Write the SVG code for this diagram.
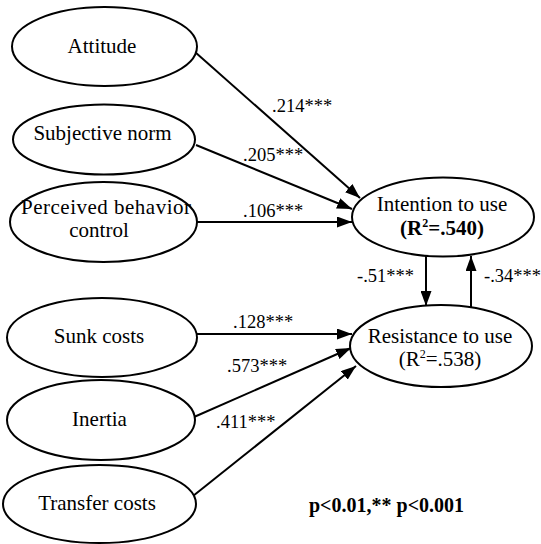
<svg xmlns="http://www.w3.org/2000/svg" width="541" height="544" viewBox="0 0 541 544" font-family="'Liberation Serif', 'Times New Roman', Tinos, 'DejaVu Serif', serif">
<defs>
<marker id="ah" markerWidth="15" markerHeight="11" refX="15" refY="5.5" orient="auto" markerUnits="userSpaceOnUse">
<path d="M0,0 L15,5.5 L0,11 z" fill="#000"/>
</marker>
<style>
.n ellipse{fill:#fff;stroke:#000;stroke-width:2}
text{font-family:'Liberation Serif','Times New Roman',Tinos,'DejaVu Serif',serif;fill:#000}
.t{font-size:21px;text-anchor:middle}
.l{font-size:18.5px}
.c line{stroke:#000;stroke-width:2;marker-end:url(#ah)}
</style>
</defs>
<rect width="541" height="544" fill="#fff"/>
<g class="c" id="connectors">
<line x1="195" y1="52" x2="360" y2="198"/>
<line x1="196" y1="145" x2="352" y2="209"/>
<line x1="197" y1="222" x2="352" y2="222"/>
<line x1="426" y1="256" x2="426" y2="306"/>
<line x1="471" y1="310" x2="471" y2="256"/>
<line x1="196" y1="334" x2="352" y2="334"/>
<line x1="194" y1="417" x2="351" y2="348"/>
<line x1="188" y1="500" x2="356" y2="366"/>
</g>
<g class="n" id="attitude"><ellipse cx="104.5" cy="46.5" rx="92.5" ry="39.5"/><text class="t" x="102" y="53">Attitude</text></g>
<g class="n" id="subjective-norm"><ellipse cx="104" cy="139.5" rx="91" ry="35"/><text class="t" x="102.5" y="140">Subjective norm</text></g>
<g class="n" id="pbc"><ellipse cx="103.5" cy="222" rx="93.5" ry="40"/><text class="t" x="106" y="213.5" font-size="20" textLength="170">Perceived behavior</text><text class="t" x="99" y="236.5" font-size="20">control</text></g>
<g class="n" id="sunk-costs"><ellipse cx="102" cy="337.5" rx="95" ry="39.5"/><text class="t" x="99" y="343">Sunk costs</text></g>
<g class="n" id="inertia"><ellipse cx="101" cy="420" rx="94" ry="40"/><text class="t" x="99.5" y="426">Inertia</text></g>
<g class="n" id="transfer-costs"><ellipse cx="99.5" cy="504" rx="96.5" ry="39"/><text class="t" x="97" y="510">Transfer costs</text></g>
<g class="n" id="intention"><ellipse cx="443" cy="217" rx="91" ry="39.5"/><text class="t" x="442" y="211">Intention to use</text><text class="t" x="442" y="235" font-weight="bold">(R<tspan font-size="12" dy="-8">2</tspan><tspan dy="8">=.540)</tspan></text></g>
<g class="n" id="resistance"><ellipse cx="441" cy="346" rx="91" ry="41"/><text class="t" x="440" y="343">Resistance to use</text><text class="t" x="440" y="366">(R<tspan font-size="12" dy="-8">2</tspan><tspan dy="8">=.538)</tspan></text></g>
<g id="labels">
<text class="l" x="272" y="112">.214***</text>
<text class="l" x="243" y="161">.205***</text>
<text class="l" x="243" y="217">.106***</text>
<text class="l" x="357" y="282">-.51***</text>
<text class="l" x="484" y="282">-.34***</text>
<text class="l" x="233" y="328">.128***</text>
<text class="l" x="227" y="372">.573***</text>
<text class="l" x="216" y="428">.411***</text>
<text x="309" y="512" font-size="20" font-weight="bold">p&lt;0.01,** p&lt;0.001</text>
</g>
</svg>
